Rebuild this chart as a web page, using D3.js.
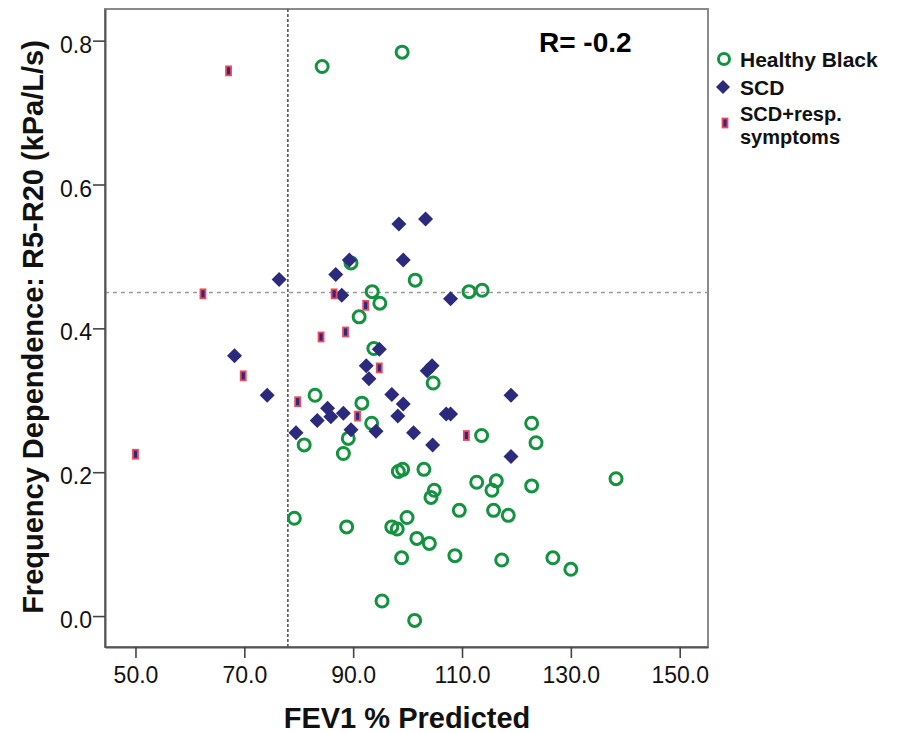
<!DOCTYPE html>
<html>
<head>
<meta charset="utf-8">
<script src="https://cdn.jsdelivr.net/npm/d3@7"></script>
<style>
  html, body { margin: 0; padding: 0; background: #fff; }
  svg { display: block; font-family: "Liberation Sans", Arial, sans-serif; }
</style>
</head>
<body>
<svg id="chart" width="903" height="733"></svg>
<script>
// ---- Data ----
const healthyBlack = [
  [84.3,0.764],[99.0,0.784],[89.6,0.491],[101.4,0.467],[93.5,0.451],[94.9,0.435],
  [91.1,0.416],[111.3,0.451],[113.7,0.453],[93.8,0.372],[83.0,0.307],[91.6,0.296],
  [93.4,0.268],[81.0,0.238],[89.1,0.247],[88.2,0.226],[79.2,0.136],[88.8,0.124],
  [97.1,0.124],[98.1,0.121],[95.3,0.021],[104.7,0.324],[122.8,0.268],[123.6,0.241],
  [113.6,0.251],[138.3,0.191],[98.3,0.201],[99.1,0.204],[103.0,0.204],[104.9,0.175],
  [104.3,0.165],[112.7,0.186],[116.3,0.188],[115.5,0.175],[122.8,0.181],[109.5,0.147],
  [115.8,0.147],[118.5,0.140],[99.9,0.137],[101.7,0.108],[104.0,0.101],[98.9,0.081],
  [108.7,0.084],[117.3,0.078],[126.7,0.081],[130.0,0.065],[101.3,-0.006]
];
const scd = [
  [76.4,0.468],[86.8,0.475],[89.3,0.495],[87.9,0.446],[98.4,0.545],[103.3,0.552],
  [99.2,0.495],[107.9,0.441],[68.2,0.362],[74.2,0.307],[94.8,0.371],[92.4,0.348],
  [92.9,0.330],[97.1,0.308],[99.2,0.295],[85.3,0.289],[85.9,0.277],[83.4,0.272],
  [88.2,0.282],[89.6,0.259],[94.2,0.257],[79.5,0.255],[98.2,0.278],[103.6,0.341],
  [104.5,0.348],[119.0,0.307],[107.1,0.281],[107.9,0.281],[101.1,0.255],[104.6,0.238],
  [119.0,0.222]
];
const scdResp = [
  [67.1,0.758],[62.4,0.448],[86.5,0.448],[92.3,0.432],[84.1,0.388],[88.6,0.395],
  [94.8,0.345],[69.8,0.334],[79.8,0.298],[90.8,0.278],[50.0,0.225],[110.8,0.251]
];
const xTicks = [50, 70, 90, 110, 130, 150];
const yTicks = [0.0, 0.2, 0.4, 0.6, 0.8];
const refX = 78.0;   // vertical reference line (FEV1 %)
const refY = 0.45;   // horizontal reference line
const legendLabels = ["Healthy Black", "SCD", ["SCD+resp.", "symptoms"]];
const rText = "R= -0.2";
const xTitle = "FEV1 % Predicted";
const yTitle = "Frequency Dependence: R5-R20 (kPa/L/s)";

// ---- Styles ----
const GREEN = "#13923f";
const NAVY = "#2b2a7c";
const RED = "#ec4a5c";

const svg = d3.select("#chart");
const L = 105, R = 708, T = 9, B = 647;

const x = d3.scaleLinear().domain([44.4, 155.2]).range([L, R]);
const y = d3.scaleLinear().domain([-0.043, 0.844]).range([B, T]);

// frame (top / right)
svg.append("rect").attr("x", L).attr("y", T).attr("width", R - L).attr("height", B - T)
  .attr("fill", "none").attr("stroke", "#8a8a8a").attr("stroke-width", 2);

// reference lines
svg.append("line")
  .attr("x1", x(refX)).attr("x2", x(refX)).attr("y1", T).attr("y2", B)
  .attr("stroke", "#555").attr("stroke-width", 1.6).attr("stroke-dasharray", "3,2");
svg.append("line")
  .attr("x1", L).attr("x2", R).attr("y1", y(refY)).attr("y2", y(refY))
  .attr("stroke", "#999").attr("stroke-width", 1.5).attr("stroke-dasharray", "4,4");

// axes
const xAxis = d3.axisBottom(x).tickValues(xTicks).tickFormat(d3.format(".1f"))
  .tickSize(11).tickSizeOuter(0);
const gx = svg.append("g").attr("transform", `translate(0,${B})`).call(xAxis);
gx.select(".domain").attr("stroke", "#555").attr("stroke-width", 2);
gx.selectAll(".tick line").attr("stroke", "#444").attr("stroke-width", 1.6);
gx.selectAll(".tick text").attr("font-size", 23).attr("fill", "#111")
  .attr("font-family", "Liberation Sans, Arial, sans-serif").attr("y", 20).attr("dy", "0.71em");

const yAxis = d3.axisLeft(y).tickValues(yTicks).tickFormat(d3.format(".1f"))
  .tickSize(12).tickSizeOuter(0);
const gy = svg.append("g").attr("transform", `translate(${L},0)`).call(yAxis);
gy.select(".domain").attr("stroke", "#555").attr("stroke-width", 2);
gy.selectAll(".tick line").attr("stroke", "#444").attr("stroke-width", 1.6);
gy.selectAll(".tick text").attr("font-size", 23).attr("fill", "#111")
  .attr("font-family", "Liberation Sans, Arial, sans-serif").attr("x", -13).attr("dy", "0.5em");

// points
const pts = svg.append("g");
pts.selectAll("circle.hb").data(healthyBlack).join("circle")
  .attr("class", "hb")
  .attr("cx", d => x(d[0])).attr("cy", d => y(d[1])).attr("r", 6)
  .attr("fill", "none").attr("stroke", GREEN).attr("stroke-width", 3);

const diamond = s => `M0,${-s}L${s},0L0,${s}L${-s},0Z`;
pts.selectAll("path.scd").data(scd).join("path")
  .attr("class", "scd")
  .attr("d", diamond(7.5))
  .attr("transform", d => `translate(${x(d[0])},${y(d[1])})`)
  .attr("fill", NAVY);

pts.selectAll("rect.sr").data(scdResp).join("rect")
  .attr("class", "sr")
  .attr("x", d => x(d[0]) - 2.5).attr("y", d => y(d[1]) - 4.5)
  .attr("width", 5).attr("height", 9)
  .attr("fill", NAVY).attr("stroke", RED).attr("stroke-width", 1.8);

// R text
svg.append("text").attr("x", 539).attr("y", 52).attr("font-size", 28)
  .attr("font-weight", "bold").attr("fill", "#000").text(rText);

// legend
const lg = svg.append("g");
lg.append("circle").attr("cx", 724).attr("cy", 59).attr("r", 5.5)
  .attr("fill", "none").attr("stroke", GREEN).attr("stroke-width", 3);
lg.append("path").attr("d", diamond(7)).attr("transform", "translate(723,87)").attr("fill", NAVY);
lg.append("rect").attr("x", 722.5).attr("y", 118.5).attr("width", 5).attr("height", 9)
  .attr("fill", NAVY).attr("stroke", RED).attr("stroke-width", 1.8);
function legText(xp, yp, s, fs) {
  lg.append("text").attr("x", xp).attr("y", yp)
    .attr("font-size", fs).attr("font-weight", "bold").attr("fill", "#111").text(s);
}
legText(740, 67, legendLabels[0], 21);
legText(740, 95, legendLabels[1], 21);
legText(740, 121, legendLabels[2][0], 20);
legText(740, 144, legendLabels[2][1], 20);

// axis titles
svg.append("text").attr("x", 407).attr("y", 728).attr("text-anchor", "middle")
  .attr("font-size", 29).attr("font-weight", "bold").attr("fill", "#111").text(xTitle);
svg.append("text").attr("transform", "translate(43,327) rotate(-90)")
  .attr("text-anchor", "middle")
  .attr("font-size", 29).attr("font-weight", "bold").attr("fill", "#111").text(yTitle);
</script>
</body>
</html>
